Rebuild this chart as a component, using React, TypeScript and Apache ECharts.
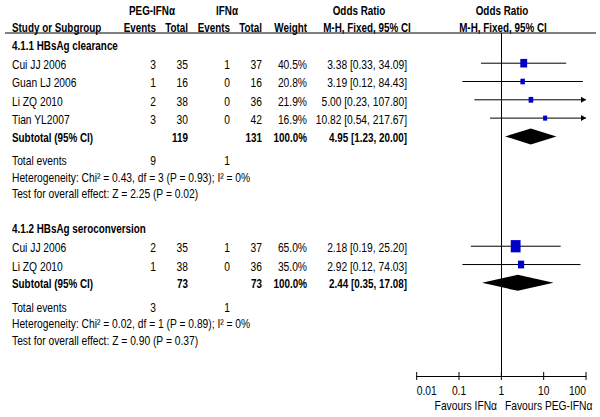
import React, { useEffect, useRef } from 'react';
import * as echarts from 'echarts';

// ---------- data ----------
const xTickValues = [0.01, 0.1, 1, 10, 100];
const xTickLabels = ['0.01', '0.1', '1', '10', '100'];
const xMin = 0.01;
const xMax = 100;

const g1Title = '4.1.1 HBsAg clearance';
const g1Studies = ['Cui JJ 2006', 'Guan LJ 2006', 'Li ZQ 2010', 'Tian YL2007'];
const g1PegEvents = [3, 1, 2, 3];
const g1PegTotal = [35, 16, 38, 30];
const g1IfnEvents = [1, 0, 0, 0];
const g1IfnTotal = [37, 16, 36, 42];
const g1Weight = [40.5, 20.8, 21.9, 16.9];
const g1OR = [3.38, 3.19, 5.0, 10.82];
const g1Lo = [0.33, 0.12, 0.23, 0.54];
const g1Hi = [34.09, 84.43, 107.8, 217.67];
const g1Sub = { pegTotal: 119, ifnTotal: 131, or: 4.95, lo: 1.23, hi: 20.0, pegEvents: 9, ifnEvents: 1 };
const g1Het = 'Heterogeneity: Chi² = 0.43, df = 3 (P = 0.93); I² = 0%';
const g1Test = 'Test for overall effect: Z = 2.25 (P = 0.02)';

const g2Title = '4.1.2 HBsAg seroconversion';
const g2Studies = ['Cui JJ 2006', 'Li ZQ 2010'];
const g2PegEvents = [2, 1];
const g2PegTotal = [35, 38];
const g2IfnEvents = [1, 0];
const g2IfnTotal = [37, 36];
const g2Weight = [65.0, 35.0];
const g2OR = [2.18, 2.92];
const g2Lo = [0.19, 0.12];
const g2Hi = [25.2, 74.03];
const g2Sub = { pegTotal: 73, ifnTotal: 73, or: 2.44, lo: 0.35, hi: 17.08, pegEvents: 3, ifnEvents: 1 };
const g2Het = 'Heterogeneity: Chi² = 0.02, df = 1 (P = 0.89); I² = 0%';
const g2Test = 'Test for overall effect: Z = 0.90 (P = 0.37)';

// ---------- layout ----------
const FONT = '"Liberation Sans Narrow", "Arial Narrow", "Liberation Sans", Arial, sans-serif';
const FS = 13;
const SX = 0.79; // horizontal condensing to mimic a narrow face
const SXB = 0.76;
const COL = { study: 12, pegEv: 156, pegTot: 188, ifnEv: 230, ifnTot: 262, weight: 307, or: 407 };
const g1Start = 0;
const g2Start = 10;
const yMin = -0.65;
const yMax = 18.09;

const fmt2 = (v: number) => v.toFixed(2);
const ciText = (o: number, l: number, h: number) => `${fmt2(o)} [${fmt2(l)}, ${fmt2(h)}]`;

type Cell = { text: string; x: number; align: string; bold?: boolean };
type Row = { row: number; cells: Cell[] };

function buildGroup(
  start: number, title: string, studies: string[], pe: number[], pt: number[], ie: number[], it: number[],
  w: number[], or: number[], lo: number[], hi: number[], sub: any, het: string, test: string
): Row[] {
  const rows: Row[] = [];
  rows.push({ row: start, cells: [{ text: title, x: COL.study, align: 'left', bold: true }] });
  studies.forEach((s, i) => {
    rows.push({
      row: start + 1 + i,
      cells: [
        { text: s, x: COL.study, align: 'left' },
        { text: String(pe[i]), x: COL.pegEv, align: 'right' },
        { text: String(pt[i]), x: COL.pegTot, align: 'right' },
        { text: String(ie[i]), x: COL.ifnEv, align: 'right' },
        { text: String(it[i]), x: COL.ifnTot, align: 'right' },
        { text: w[i].toFixed(1) + '%', x: COL.weight, align: 'right' },
        { text: ciText(or[i], lo[i], hi[i]), x: COL.or, align: 'right' },
      ],
    });
  });
  const sr = start + 1 + studies.length;
  rows.push({
    row: sr,
    cells: [
      { text: 'Subtotal (95% CI)', x: COL.study, align: 'left', bold: true },
      { text: String(sub.pegTotal), x: COL.pegTot, align: 'right', bold: true },
      { text: String(sub.ifnTotal), x: COL.ifnTot, align: 'right', bold: true },
      { text: '100.0%', x: COL.weight, align: 'right', bold: true },
      { text: ciText(sub.or, sub.lo, sub.hi), x: COL.or, align: 'right', bold: true },
    ],
  });
  rows.push({
    row: sr + 1.25,
    cells: [
      { text: 'Total events', x: COL.study, align: 'left' },
      { text: String(sub.pegEvents), x: COL.pegEv, align: 'right' },
      { text: String(sub.ifnEvents), x: COL.ifnEv, align: 'right' },
    ],
  });
  rows.push({ row: sr + 2.15, cells: [{ text: het, x: COL.study, align: 'left' }] });
  rows.push({ row: sr + 3.05, cells: [{ text: test, x: COL.study, align: 'left' }] });
  return rows;
}

const tableRows: Row[] = [
  ...buildGroup(g1Start, g1Title, g1Studies, g1PegEvents, g1PegTotal, g1IfnEvents, g1IfnTotal, g1Weight, g1OR, g1Lo, g1Hi, g1Sub, g1Het, g1Test),
  ...buildGroup(g2Start, g2Title, g2Studies, g2PegEvents, g2PegTotal, g2IfnEvents, g2IfnTotal, g2Weight, g2OR, g2Lo, g2Hi, g2Sub, g2Het, g2Test),
];

const studyData = [
  ...g1Studies.map((_, i) => [g1OR[i], g1Start + 1 + i, g1Lo[i], g1Hi[i], g1Weight[i]]),
  ...g2Studies.map((_, i) => [g2OR[i], g2Start + 1 + i, g2Lo[i], g2Hi[i], g2Weight[i]]),
];
const subData = [
  [g1Sub.or, g1Start + 1 + g1Studies.length, g1Sub.lo, g1Sub.hi],
  [g2Sub.or, g2Start + 1 + g2Studies.length, g2Sub.lo, g2Sub.hi],
];

const textEl = (text: string, x: number, y: number, align: string, bold = false) => ({
  type: 'text', x, y, scaleX: bold ? SXB : SX, scaleY: 1,
  style: { text, align, verticalAlign: 'middle', fontFamily: FONT, fontSize: FS, fontWeight: bold ? 'bold' : 'normal', fill: '#000' },
});

export default function App() {
  const ref = useRef<HTMLDivElement>(null);
  useEffect(() => {
    if (!ref.current) return;
    const chart = echarts.init(ref.current, null, { renderer: 'svg' });
    chart.setOption({
      animation: false,
      backgroundColor: '#fff',
      grid: { left: 416.7, right: 14, top: 33, bottom: 41 },
      xAxis: {
        type: 'log', logBase: 10, min: xMin, max: xMax, position: 'bottom',
        splitLine: { show: false },
        axisLine: { show: true, onZero: false, lineStyle: { color: '#000', width: 1 } },
        axisTick: { show: false },
        axisLabel: { show: false },
      },
      yAxis: { type: 'value', inverse: true, min: yMin, max: yMax, show: false },
      graphic: [
        { type: 'line', shape: { x1: 5, y1: 33, x2: 596, y2: 33 }, style: { stroke: '#000', lineWidth: 1 } },
        textEl('PEG-IFNα', 152, 10, 'center', true),
        textEl('IFNα', 227, 10, 'center', true),
        textEl('Odds Ratio', 359, 10, 'center', true),
        textEl('Odds Ratio', 502, 10, 'center', true),
        textEl('Study or Subgroup', 12, 27, 'left', true),
        textEl('Events', 156, 27, 'right', true),
        textEl('Total', 188, 27, 'right', true),
        textEl('Events', 230, 27, 'right', true),
        textEl('Total', 262, 27, 'right', true),
        textEl('Weight', 307, 27, 'right', true),
        textEl('M-H, Fixed, 95% CI', 367, 27, 'center', true),
        textEl('M-H, Fixed, 95% CI', 503, 27, 'center', true),
        textEl('Favours IFNα', 497, 405, 'right'),
        textEl('Favours PEG-IFNα', 505, 405, 'left'),
      ],
      series: [
        {
          type: 'custom',
          name: 'table',
          silent: true,
          clip: false,
          data: tableRows.map((r) => [1, r.row]),
          encode: { x: 0, y: 1 },
          renderItem: (params: any, api: any) => {
            const r = tableRows[params.dataIndex];
            const y = api.coord([1, r.row])[1] + 1;
            return {
              type: 'group',
              children: r.cells.map((c) => textEl(c.text, c.x, y, c.align, !!c.bold)),
            };
          },
        },
        {
          type: 'custom',
          name: 'ticks',
          silent: true,
          clip: false,
          data: xTickValues.map((v) => [v, yMax]),
          encode: { x: 0, y: 1 },
          renderItem: (params: any, api: any) => {
            const i = params.dataIndex;
            const p = api.coord([api.value(0), api.value(1)]);
            const align = i === 0 ? 'left' : i === xTickValues.length - 1 ? 'right' : 'center';
            return {
              type: 'group',
              children: [
                { type: 'line', shape: { x1: p[0], y1: p[1] - 4, x2: p[0], y2: p[1] + 4 }, style: { stroke: '#000', lineWidth: 1 } },
                textEl(xTickLabels[i], p[0], p[1] + 14, align),
              ],
            };
          },
        },
        {
          type: 'custom',
          name: 'studies',
          silent: true,
          clip: false,
          data: studyData,
          encode: { x: 0, y: 1 },
          renderItem: (params: any, api: any) => {
            const or = api.value(0), row = api.value(1), lo = api.value(2), hi = api.value(3), w = api.value(4);
            const c = api.coord([or, row]);
            const l = api.coord([Math.max(lo, xMin), row]);
            const h = api.coord([Math.min(hi, xMax), row]);
            const y = c[1];
            const children: any[] = [
              { type: 'line', shape: { x1: l[0], y1: y, x2: h[0], y2: y }, style: { stroke: '#000', lineWidth: 1 } },
            ];
            if (hi > xMax) {
              children.push({ type: 'polygon', shape: { points: [[h[0] - 5, y - 3], [h[0], y], [h[0] - 5, y + 3]] }, style: { fill: '#000' } });
            }
            if (lo < xMin) {
              children.push({ type: 'polygon', shape: { points: [[l[0] + 5, y - 3], [l[0], y], [l[0] + 5, y + 3]] }, style: { fill: '#000' } });
            }
            const sw = 2 + 0.12 * w;
            const sh = sw * 1.25;
            children.push({ type: 'rect', shape: { x: c[0] - sw / 2, y: y - sh / 2, width: sw, height: sh }, style: { fill: '#0000c8' } });
            return { type: 'group', children };
          },
          markLine: {
            silent: true,
            symbol: ['none', 'none'],
            label: { show: false },
            lineStyle: { color: '#000', type: 'solid', width: 1 },
            data: [{ xAxis: 1 }],
          },
        },
        {
          type: 'custom',
          name: 'subtotals',
          silent: true,
          clip: false,
          data: subData,
          encode: { x: 0, y: 1 },
          renderItem: (params: any, api: any) => {
            const or = api.value(0), row = api.value(1), lo = api.value(2), hi = api.value(3);
            const c = api.coord([or, row]);
            const l = api.coord([lo, row]);
            const h = api.coord([hi, row]);
            const y = c[1];
            const hh = 8;
            return {
              type: 'polygon',
              shape: { points: [[l[0], y], [c[0], y - hh], [h[0], y], [c[0], y + hh]] },
              style: { fill: '#000' },
            };
          },
        },
      ],
    });
    return () => chart.dispose();
  }, []);
  return <div ref={ref} style={{ position: 'fixed', left: 0, top: 0, width: 600, height: 417, background: '#fff' }} />;
}
